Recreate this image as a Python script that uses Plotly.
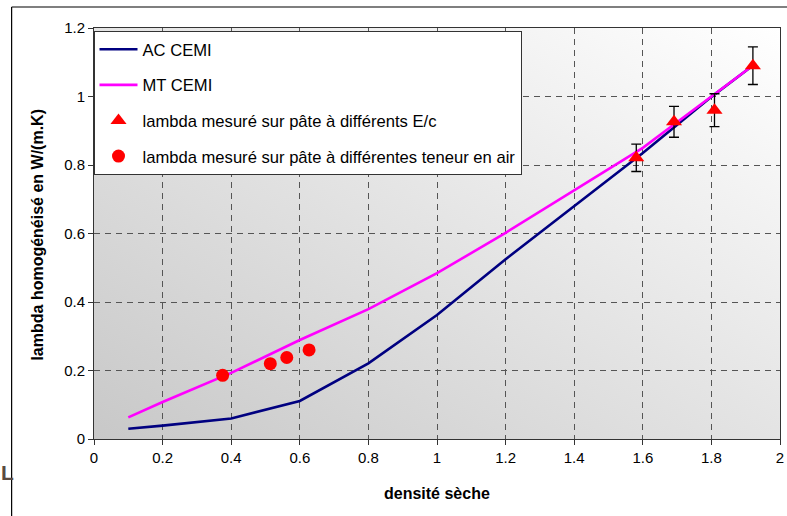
import base64
import plotly.graph_objects as go

# ---- data ----
x_model = [0.1, 0.2, 0.4, 0.6, 0.8, 1.0, 1.2, 1.4, 1.6, 1.8, 1.92]
ac_cemi = [0.030, 0.039, 0.060, 0.111, 0.221, 0.362, 0.525, 0.680, 0.835, 0.999, 1.090]
mt_cemi = [0.063, 0.108, 0.193, 0.289, 0.379, 0.484, 0.602, 0.725, 0.850, 1.000, 1.090]

x_ec = [1.581, 1.691, 1.809, 1.921]
y_ec = [0.821, 0.926, 0.960, 1.090]
err_ec = [0.040, 0.045, 0.048, 0.055]

x_air = [0.375, 0.514, 0.562, 0.627]
y_air = [0.186, 0.220, 0.238, 0.260]

x_ticks = [0, 0.2, 0.4, 0.6, 0.8, 1, 1.2, 1.4, 1.6, 1.8, 2]
y_ticks = [0, 0.2, 0.4, 0.6, 0.8, 1, 1.2]

FONT = "Arial, Liberation Sans, sans-serif"

W, H = 787, 516
ML, MR, MT, MB = 93.5, 6.5, 28, 77
PW, PH = W - ML - MR, H - MT - MB


def px(xp):
    return (xp - ML) / PW


def py(yp):
    return (H - MB - yp) / PH


fig = go.Figure()

fig.add_trace(go.Scatter(x=x_model, y=ac_cemi, mode="lines", name="AC CEMI",
                         line=dict(color="#000080", width=2.6), legendgroup="a"))
fig.add_trace(go.Scatter(x=x_model, y=mt_cemi, mode="lines", name="MT CEMI",
                         line=dict(color="#FF00FF", width=2.6), legendgroup="b"))
fig.add_trace(go.Scatter(x=x_ec, y=y_ec, mode="markers",
                         name="lambda mesuré sur pâte à différents E/c",
                         marker=dict(symbol="triangle-up", size=14, color="#FF0000"),
                         error_y=dict(type="data", array=err_ec, visible=True,
                                      color="#000000", thickness=1.3, width=5),
                         legendgroup="c"))
fig.add_trace(go.Scatter(x=x_air, y=y_air, mode="markers",
                         name="lambda mesuré sur pâte à différentes teneur en air",
                         marker=dict(symbol="circle", size=13, color="#FF0000"),
                         legendgroup="d"))

svg = ('<svg xmlns="http://www.w3.org/2000/svg" width="100" height="100" preserveAspectRatio="none">'
       '<defs><linearGradient id="g" x1="0" y1="1" x2="1" y2="0">'
       '<stop offset="0" stop-color="#c8c8c8"/><stop offset="1" stop-color="#ffffff"/>'
       '</linearGradient></defs><rect width="100" height="100" fill="url(#g)"/></svg>')
svg_uri = "data:image/svg+xml;base64," + base64.b64encode(svg.encode()).decode()

axis_common = dict(
    showgrid=True, gridcolor="#555555", griddash="6px,5px", gridwidth=1,
    showline=True, linecolor="#333333", linewidth=1, mirror=True,
    ticks="outside", ticklen=5, tickcolor="#333333",
    tickfont=dict(family=FONT, size=15, color="#000000"),
    zeroline=False, fixedrange=True, automargin=False,
)

fig.update_layout(
    width=W, height=H,
    margin=dict(l=ML, r=MR, t=MT, b=MB, pad=0, autoexpand=False),
    paper_bgcolor="#ffffff", plot_bgcolor="rgba(0,0,0,0)",
    font=dict(family=FONT, color="#000000"),
    xaxis=dict(range=[0, 2], tickvals=x_ticks, ticktext=[f"{v:g}" for v in x_ticks], **axis_common),
    yaxis=dict(range=[0, 1.2], tickvals=y_ticks, ticktext=[f"{v:g}" for v in y_ticks], **axis_common),
    showlegend=True,
    legend=dict(x=px(93), y=py(31), xanchor="left", yanchor="top",
                bgcolor="#ffffff", bordercolor="#333333", borderwidth=1,
                font=dict(family=FONT, size=16.6, color="#000000"),
                tracegroupgap=11, traceorder="grouped", itemwidth=38),
    images=[dict(source=svg_uri, xref="x", yref="y", x=0, y=1.2, sizex=2, sizey=1.2,
                 sizing="stretch", layer="below")],
    shapes=[
        dict(type="line", xref="paper", yref="paper", x0=px(11), x1=px(11), y0=py(7), y1=py(520),
             line=dict(color="#000000", width=1.2)),
        dict(type="line", xref="paper", yref="paper", x0=px(11), x1=px(790), y0=py(7), y1=py(7),
             line=dict(color="#000000", width=1.2)),
    ],
    annotations=[
        dict(text="<b>densité sèche</b>", xref="paper", yref="paper", x=0.5, y=py(493),
             xanchor="center", yanchor="middle",
             showarrow=False, font=dict(family=FONT, size=16, color="#000000")),
        dict(text="<b>lambda homogénéisé en W/(m.K)</b>", xref="paper", yref="paper",
             x=px(37), y=py(235), xanchor="center", yanchor="middle", textangle=-90,
             showarrow=False, font=dict(family=FONT, size=16, color="#000000")),
        dict(text="<b>L</b>", xref="paper", yref="paper", x=px(-2), y=py(473),
             xanchor="left", yanchor="middle",
             showarrow=False, font=dict(family=FONT, size=21, color="#5a4a40")),
    ],
)

fig.write_html("out.html")
